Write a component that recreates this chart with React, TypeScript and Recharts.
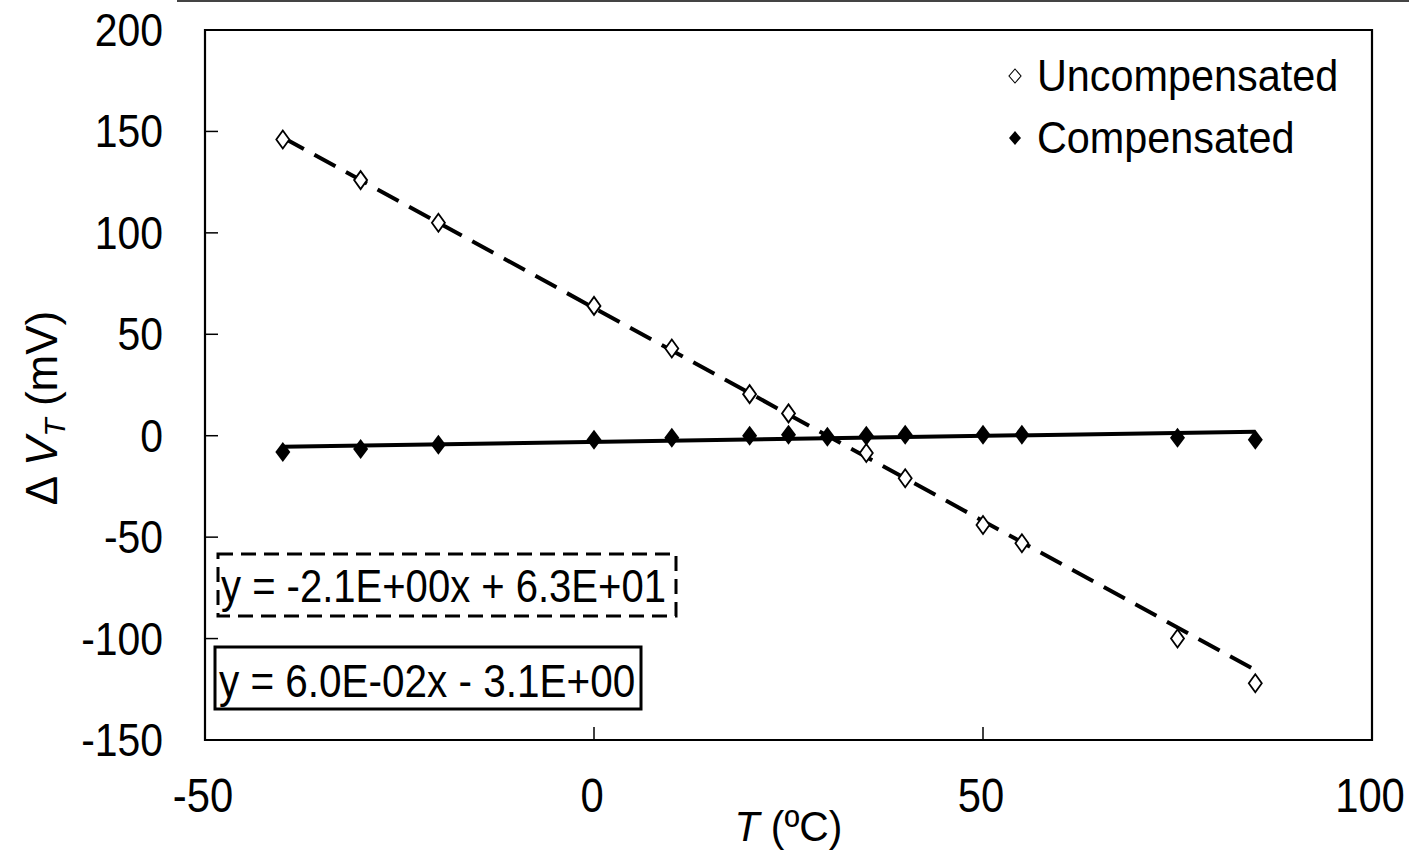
import React from "react";
import {
  ReferenceArea,
  Scatter,
  ScatterChart,
  XAxis,
  YAxis
} from "recharts";

const FONT = "'Liberation Sans', Arial, sans-serif";

const tempsUncomp = [-40, -30, -20, 0, 10, 20, 25, 35, 40, 50, 55, 75, 85];
const valuesUncomp = [146, 126, 105, 64, 43, 20.5, 11, -8.5, -21, -44, -53, -100, -122];

const tempsComp = [-40, -30, -20, 0, 10, 20, 25, 30, 35, 40, 50, 55, 75, 85];
const valuesComp = [-8, -6.5, -4.5, -2, -1, 0, 0.5, -0.5, 0, 0.5, 0.5, 0.5, -1, -2];

// trendline end points
const trendTemps = [-40, 85];
const trendUncomp = [147, -115.5];
const trendComp = [-5.5, 2];

const xTicks = [-50, 0, 50, 100];
const yTicks = [-150, -100, -50, 0, 50, 100, 150, 200];

const toPoints = (xs: number[], ys: number[]) => xs.map((x, i) => ({ x, y: ys[i] }));

const uncompData = toPoints(tempsUncomp, valuesUncomp);
const compData = toPoints(tempsComp, valuesComp);
const uncompTrend = toPoints(trendTemps, trendUncomp);
const compTrend = toPoints(trendTemps, trendComp);

const OpenDiamond = (props: any) => {
  const { cx, cy } = props;
  return (
    <polygon
      points={`${cx},${cy - 9} ${cx + 6.5},${cy} ${cx},${cy + 9} ${cx - 6.5},${cy}`}
      fill="#fff"
      stroke="#000"
      strokeWidth={1.8}
    />
  );
};

const FilledDiamond = (props: any) => {
  const { cx, cy } = props;
  return (
    <polygon
      points={`${cx},${cy - 10} ${cx + 7.5},${cy} ${cx},${cy + 10} ${cx - 7.5},${cy}`}
      fill="#000"
    />
  );
};

const NoDot = () => null;

const YTick = (props: any) => {
  const { x, y, payload } = props;
  return (
    <g>
      <line x1={x} y1={y} x2={x + 13} y2={y} stroke="#000" strokeWidth={1.5} />
      <text
        transform={`translate(${x - 42},${y + 16}) scale(0.87,1)`}
        textAnchor="end"
        fontSize={47}
        fontFamily={FONT}
        fill="#000"
      >
        {payload.value}
      </text>
    </g>
  );
};

const XTick = (props: any) => {
  const { x, y, payload } = props;
  return (
    <g>
      <line x1={x} y1={y} x2={x} y2={y - 13} stroke="#000" strokeWidth={1.5} />
      <text
        transform={`translate(${x - 2},${y + 72}) scale(0.87,1)`}
        textAnchor="middle"
        fontSize={48}
        fontFamily={FONT}
        fill="#000"
      >
        {payload.value}
      </text>
    </g>
  );
};

const YLabel = (props: any) => {
  const { viewBox } = props;
  const cx = viewBox.x + 57;
  const cy = viewBox.y + viewBox.height / 2 + 23;
  return (
    <text
      transform={`translate(${cx},${cy}) rotate(-90)`}
      textAnchor="middle"
      fontSize={44}
      fontFamily={FONT}
      fill="#000"
    >
      <tspan>Δ </tspan>
      <tspan fontStyle="italic">V</tspan>
      <tspan fontStyle="italic" fontSize={30} dy={8}>T</tspan>
      <tspan dy={-8}> (mV)</tspan>
    </text>
  );
};

const XLabel = (props: any) => {
  const { viewBox } = props;
  const cx = viewBox.x + viewBox.width / 2;
  const cy = viewBox.y + 101;
  return (
    <text
      transform={`translate(${cx},${cy}) scale(0.95,1)`}
      textAnchor="middle"
      fontSize={43}
      fontFamily={FONT}
      fill="#000"
    >
      <tspan fontStyle="italic">T</tspan>
      <tspan> (ºC)</tspan>
    </text>
  );
};

const legendRow: React.CSSProperties = {
  position: "absolute",
  left: 0,
  display: "flex",
  alignItems: "center",
  whiteSpace: "nowrap"
};

const legendText: React.CSSProperties = {
  display: "inline-block",
  transform: "scaleX(0.94)",
  transformOrigin: "left center"
};

const LegendBox = () => (
  <div
    style={{
      position: "absolute",
      left: 1007,
      top: 50,
      fontFamily: FONT,
      fontSize: 44,
      lineHeight: "52px",
      color: "#000"
    }}
  >
    <div style={{ ...legendRow, top: 0 }}>
      <svg width={16} height={20} style={{ marginRight: 14 }}>
        <polygon points="8,3 14,10 8,17 2,10" fill="#fff" stroke="#000" strokeWidth={1.1} />
      </svg>
      <span style={legendText}>Uncompensated</span>
    </div>
    <div style={{ ...legendRow, top: 62 }}>
      <svg width={16} height={20} style={{ marginRight: 14 }}>
        <polygon points="8,3 14,10 8,17 2,10" fill="#000" />
      </svg>
      <span style={legendText}>Compensated</span>
    </div>
  </div>
);

const EquationBoxes = () => (
  <svg
    width={1409}
    height={851}
    style={{ position: "absolute", left: 0, top: 0, pointerEvents: "none" }}
  >
    <rect
      x={218}
      y={554}
      width={458}
      height={62}
      fill="#fff"
      stroke="#000"
      strokeWidth={3}
      strokeDasharray="15 8"
    />
    <text
      transform="translate(221,602) scale(0.87,1)"
      fontSize={46}
      fontFamily={FONT}
      fill="#000"
    >
      y = -2.1E+00x + 6.3E+01
    </text>
    <rect
      x={215}
      y={647}
      width={426}
      height={62}
      fill="#fff"
      stroke="#000"
      strokeWidth={3}
    />
    <text
      transform="translate(219,697) scale(0.88,1)"
      fontSize={46}
      fontFamily={FONT}
      fill="#000"
    >
      y = 6.0E-02x - 3.1E+00
    </text>
  </svg>
);

export default function App() {
  return (
    <div style={{ position: "absolute", left: 0, top: 0, width: 1409, height: 851, background: "#fff" }}>
      <div style={{ position: "absolute", left: 177, top: 0, width: 1232, height: 2, background: "#444" }} />
      <ScatterChart
        width={1409}
        height={851}
        margin={{ top: 30, right: 37, bottom: 0, left: 0 }}
      >
        <XAxis
          type="number"
          dataKey="x"
          domain={[-50, 100]}
          ticks={xTicks}
          axisLine={false}
          tickLine={false}
          tickSize={0}
          tickMargin={0}
          tick={<XTick />}
          height={111}
          label={<XLabel />}
        />
        <YAxis
          type="number"
          dataKey="y"
          domain={[-150, 200]}
          ticks={yTicks}
          axisLine={false}
          tickLine={false}
          tickSize={0}
          tickMargin={0}
          tick={<YTick />}
          width={205}
          label={<YLabel />}
        />
        <ReferenceArea
          x1={-50}
          x2={100}
          y1={-150}
          y2={200}
          fill="none"
          stroke="#000"
          strokeWidth={2.2}
          ifOverflow="visible"
        />
        <Scatter
          data={uncompTrend}
          shape={<NoDot />}
          line={{ stroke: "#000", strokeWidth: 4, strokeDasharray: "24 12" }}
          legendType="none"
          isAnimationActive={false}
        />
        <Scatter
          data={compTrend}
          shape={<NoDot />}
          line={{ stroke: "#000", strokeWidth: 4 }}
          legendType="none"
          isAnimationActive={false}
        />
        <Scatter
          name="Uncompensated"
          data={uncompData}
          shape={<OpenDiamond />}
          isAnimationActive={false}
        />
        <Scatter
          name="Compensated"
          data={compData}
          shape={<FilledDiamond />}
          isAnimationActive={false}
        />
      </ScatterChart>
      <LegendBox />
      <EquationBoxes />
    </div>
  );
}
